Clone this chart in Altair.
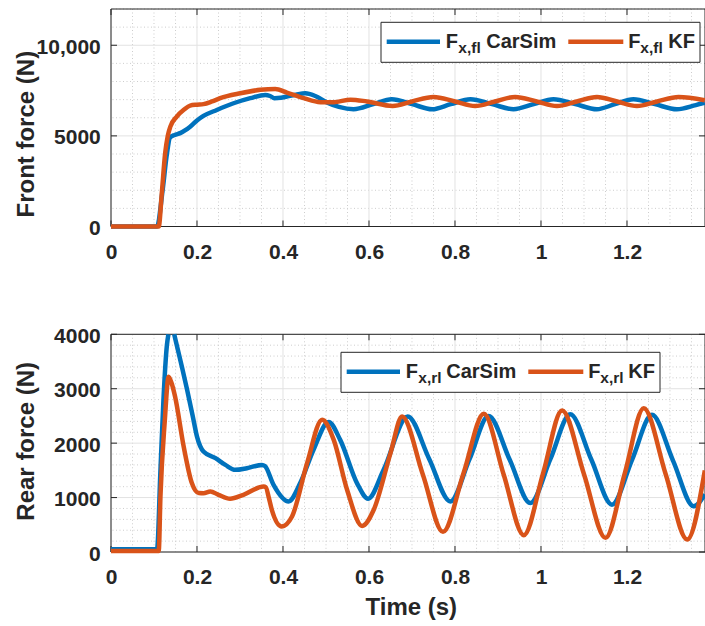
import altair as alt
import pandas as pd

# ---------------- data ----------------
# Front (fl) force, CarSim
t_fl_carsim = [0, 0.05, 0.107, 0.12, 0.13, 0.137, 0.148, 0.161, 0.172, 0.184,
               0.2, 0.215, 0.246, 0.285, 0.324, 0.359, 0.37, 0.38, 0.395, 0.409,
               0.43, 0.452, 0.475, 0.502, 0.53, 0.564, 0.61, 0.653, 0.70, 0.747,
               0.79, 0.836, 0.886, 0.936, 0.983, 1.029, 1.08, 1.13, 1.172, 1.215,
               1.265, 1.316, 1.36, 1.381]
f_fl_carsim = [0, 0, 0, 2000, 4000, 4900, 5050, 5150, 5300, 5510,
               5850, 6100, 6430, 6800, 7080, 7260, 7200, 7080, 7100, 7170,
               7270, 7350, 7200, 6850, 6600, 6470, 6750, 7020, 6750, 6470,
               6750, 7020, 6750, 6470, 6750, 7020, 6750, 6470, 6750, 7020,
               6750, 6470, 6700, 6830]
# Front (fl) force, KF
t_fl_kf = [0, 0.05, 0.111, 0.118, 0.126, 0.132, 0.138, 0.153, 0.17, 0.184,
           0.2, 0.215, 0.235, 0.254, 0.301, 0.347, 0.382, 0.409, 0.448, 0.487,
           0.518, 0.557, 0.595, 0.655, 0.70, 0.75, 0.80, 0.847, 0.893, 0.94,
           0.99, 1.037, 1.083, 1.13, 1.177, 1.223, 1.27, 1.32, 1.381]
f_fl_kf = [0, 0, 0, 1800, 4050, 5000, 5510, 6065, 6450, 6670,
           6720, 6750, 6900, 7080, 7350, 7540, 7590, 7390, 7080, 6860,
           6860, 7000, 6900, 6650, 6900, 7150, 6900, 6650, 6900, 7150,
           6900, 6650, 6900, 7150, 6900, 6650, 6900, 7150, 6970]
# Rear (rl) force, CarSim: the peak runs off the top of the axes, so the
# visible trace is in two pieces (rising edge, then falling edge onwards)
t_rl_carsim_rise = [0, 0.05, 0.107, 0.115, 0.122, 0.13, 0.1335]
f_rl_carsim_rise = [50, 50, 50, 1500, 2800, 3800, 4000]
t_rl_carsim = [0.147, 0.153, 0.165,
               0.177, 0.19, 0.2, 0.215, 0.243, 0.266, 0.289, 0.316, 0.351, 0.358,
               0.378, 0.413, 0.44, 0.471, 0.506, 0.533, 0.572, 0.598, 0.634, 0.69,
               0.74, 0.789, 0.834, 0.878, 0.927, 0.975, 1.022, 1.068, 1.117, 1.165,
               1.212, 1.258, 1.307, 1.355, 1.381]
f_rl_carsim = [4000, 3800, 3400,
               2980, 2500, 2120, 1846, 1725, 1600, 1510, 1540, 1600, 1580,
               1235, 930, 1266, 1877, 2390, 2060, 1266, 980, 1510, 2490,
               1710, 930, 1710, 2500, 1700, 900, 1710, 2530, 1700, 870,
               1700, 2520, 1680, 840, 1060]
# Rear (rl) force, KF
t_rl_kf = [0, 0.05, 0.111, 0.115, 0.125, 0.134, 0.141, 0.149, 0.169, 0.188,
           0.204, 0.215, 0.231, 0.25, 0.277, 0.308, 0.355, 0.36, 0.367, 0.374,
           0.397, 0.421, 0.456, 0.491, 0.518, 0.549, 0.584, 0.611, 0.650, 0.677,
           0.725, 0.772, 0.82, 0.867, 0.913, 0.96, 1.005, 1.049, 1.10, 1.15,
           1.195, 1.239, 1.29, 1.34, 1.381]
f_rl_kf = [20, 20, 20, 1020, 2400, 3222, 3100, 2855, 1938, 1266,
           1083, 1080, 1112, 1051, 978, 1051, 1204, 1190, 1000, 776,
           470, 653, 1633, 2430, 2060, 1143, 480, 776, 1816, 2490,
           1430, 370, 1450, 2540, 1430, 310, 1450, 2600, 1430, 260,
           1450, 2640, 1430, 230, 1500]

# ticks / grid values
x_major = [0, 0.2, 0.4, 0.6, 0.8, 1, 1.2]
x_minor = [0.05, 0.1, 0.15, 0.25, 0.3, 0.35, 0.45, 0.5, 0.55, 0.65, 0.7, 0.75,
           0.85, 0.9, 0.95, 1.05, 1.1, 1.15, 1.25, 1.3, 1.35]
y_top_major = [0, 5000, 10000]
y_top_minor = [1000, 2000, 3000, 4000, 6000, 7000, 8000, 9000, 11000, 12000]
y_bot_major = [0, 1000, 2000, 3000, 4000]
y_bot_minor = [200, 400, 600, 800, 1200, 1400, 1600, 1800, 2200, 2400, 2600, 2800,
               3200, 3400, 3600, 3800]

# ---------------- style / layout ----------------
BLUE = "#0072BD"
ORANGE = "#D95319"
TXT = "#262626"
GRID = "#e2e2e2"
MINOR = "#cdcdcd"
FONT = "Liberation Sans"
W = 594            # plot width (both panels)
H = 543            # total plot height (both panels + gap)
X_MAX = 1.3814
LW = 4.5
TOP_Y0, TOP_Y1 = 0, 217.5      # top panel vertical extent (px from plot top)
BOT_Y0, BOT_Y1 = 325.3, 543    # bottom panel vertical extent


def panel(series, y_max, y_major, y_minor, y0, y1, y_title, title_y, label_expr,
          leg_left, leg_top, sub, x_title):
    xs = alt.Scale(domain=[0, X_MAX], nice=False, zero=False)
    ys = alt.Scale(domain=[0, y_max], range=[y1, y0], nice=False, zero=False)
    xaxis_kw = dict(values=x_major, format="~g", orient="bottom", offset=y1 - H,
                    ticks=False, tickSize=0, domain=False, grid=False,
                    labelPadding=31.6, labelBaseline="alphabetic", labelFlush=False,
                    labelOverlap=False, labelFont=FONT, labelFontSize=21,
                    labelFontWeight="bold", labelColor=TXT)
    if x_title:
        xaxis_kw.update(title=x_title, titleX=299.8, titleY=62.7, titleAlign="center",
                        titleBaseline="alphabetic", titleFont=FONT, titleFontSize=24,
                        titleFontWeight="bold", titleColor=TXT)
    else:
        xaxis_kw.update(title=None)
    xaxis = alt.Axis(**xaxis_kw)
    yaxis = alt.Axis(values=y_major, labelExpr=label_expr, orient="left",
                     ticks=False, tickSize=0, domain=False, grid=False,
                     labelPadding=10.7, labelBaseline="middle", labelOffset=2,
                     labelFlush=False, labelOverlap=False, labelFont=FONT,
                     labelFontSize=21, labelFontWeight="bold", labelColor=TXT,
                     title=y_title, titleX=-78, titleY=title_y, titleAngle=270,
                     titleAlign="center", titleBaseline="alphabetic", titleFont=FONT,
                     titleFontSize=24, titleFontWeight="bold", titleColor=TXT)
    X = alt.X("t:Q", scale=xs, axis=xaxis)
    Y = alt.Y("f:Q", scale=ys, axis=yaxis)

    one = pd.DataFrame({"k": [0]})
    minor_style = dict(color=MINOR, strokeDash=[1, 2.5], strokeWidth=1)
    major_style = dict(color=GRID, strokeWidth=1)
    layers = [
        # grid
        alt.Chart(pd.DataFrame({"t": x_minor})).mark_rule(**minor_style).encode(
            x=X, y=alt.value(y0), y2=alt.value(y1)),
        alt.Chart(pd.DataFrame({"f": y_minor})).mark_rule(**minor_style).encode(y=Y),
        alt.Chart(pd.DataFrame({"t": x_major})).mark_rule(**major_style).encode(
            x=X, y=alt.value(y0), y2=alt.value(y1)),
        alt.Chart(pd.DataFrame({"f": y_major})).mark_rule(**major_style).encode(y=Y),
        # axes box
        alt.Chart(one).mark_rect(fillOpacity=0, stroke=TXT, strokeWidth=1).encode(
            x=alt.value(0), x2=alt.value(W), y=alt.value(y0), y2=alt.value(y1)),
        # inward major ticks on all four sides
        alt.Chart(pd.DataFrame({"t": x_major})).mark_rule(color=TXT, strokeWidth=1).encode(
            x=X, y=alt.value(y1), y2=alt.value(y1 - 6)),
        alt.Chart(pd.DataFrame({"t": x_major})).mark_rule(color=TXT, strokeWidth=1).encode(
            x=X, y=alt.value(y0), y2=alt.value(y0 + 6)),
        alt.Chart(pd.DataFrame({"f": y_major})).mark_rule(color=TXT, strokeWidth=1).encode(
            y=Y, x=alt.value(0), x2=alt.value(6)),
        alt.Chart(pd.DataFrame({"f": y_major})).mark_rule(color=TXT, strokeWidth=1).encode(
            y=Y, x=alt.value(W), x2=alt.value(W - 6)),
    ]
    # data traces
    for ts, fs, col in series:
        layers.append(alt.Chart(pd.DataFrame({"t": ts, "f": fs})).mark_line(
            color=col, strokeWidth=LW, interpolate="monotone").encode(x=X, y=Y))
    # legend
    L, T = leg_left, leg_top
    layers.append(alt.Chart(one).mark_rect(fill="white", stroke=TXT, strokeWidth=1).encode(
        x=alt.value(L), x2=alt.value(L + 319), y=alt.value(T), y2=alt.value(T + 40)))
    layers.append(alt.Chart(one).mark_rule(color=BLUE, strokeWidth=LW).encode(
        x=alt.value(L + 5.7), x2=alt.value(L + 59), y=alt.value(T + 19.4)))
    layers.append(alt.Chart(one).mark_rule(color=ORANGE, strokeWidth=LW).encode(
        x=alt.value(L + 187.3), x2=alt.value(L + 242.3), y=alt.value(T + 19.4)))
    txt = dict(align="left", baseline="alphabetic", font=FONT, fontWeight="bold", color=TXT)
    for xoff, yoff, s, size in [
        (64.7, 26, "F", 20), (77.3, 31, sub, 15.5), (105.2, 26, "CarSim", 20),
        (247.3, 26, "F", 20), (259.3, 31, sub, 15.5), (287.3, 26, "KF", 20),
    ]:
        layers.append(alt.Chart(one).mark_text(text=s, fontSize=size, **txt).encode(
            x=alt.value(L + xoff), y=alt.value(T + yoff)))
    return alt.layer(*layers)


top = panel([(t_fl_carsim, f_fl_carsim, BLUE), (t_fl_kf, f_fl_kf, ORANGE)],
            12000, y_top_major, y_top_minor, TOP_Y0, TOP_Y1,
            "Front force (N)", 124.7,
            "datum.value == 10000 ? '10,000' : toString(datum.value)",
            270, 13.3, "x,fl", None)
bottom = panel([(t_rl_carsim_rise, f_rl_carsim_rise, BLUE), (t_rl_carsim, f_rl_carsim, BLUE),
                (t_rl_kf, f_rl_kf, ORANGE)],
               4000, y_bot_major, y_bot_minor, BOT_Y0, BOT_Y1,
               "Rear force (N)", 431.8, "toString(datum.value)",
               230, 343.3, "x,rl", "Time (s)")

chart = alt.layer(top, bottom).resolve_scale(x="independent", y="independent").properties(
    width=W, height=H,
    autosize=alt.AutoSizeParams(type="none"),
    padding={"left": 111, "top": 9, "right": 0, "bottom": 74},
    background="white",
).configure_view(strokeWidth=0)

chart.save("out.html", embed_options={"renderer": "svg", "actions": False})
